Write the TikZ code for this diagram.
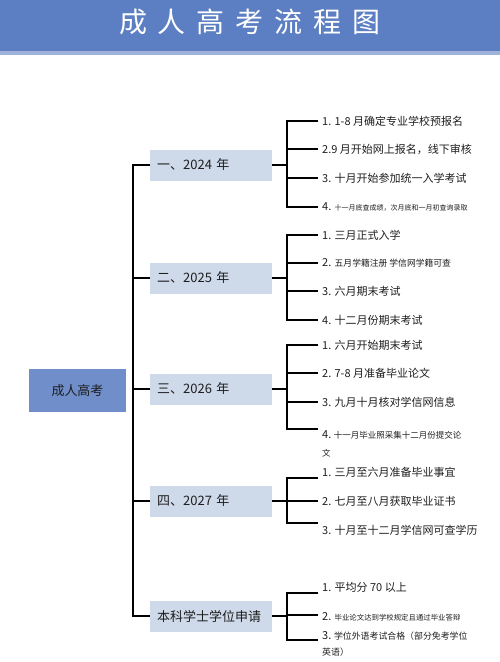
\documentclass[tikz,border=0pt]{standalone}
\usepackage{fontspec}
\setmainfont{Noto Sans CJK SC}
\definecolor{titleblue}{HTML}{5B7FC2}
\definecolor{titleedge}{HTML}{9FB3DA}
\definecolor{rootblue}{HTML}{6F8ECA}
\definecolor{yearbox}{HTML}{CED9EA}
\definecolor{ink}{HTML}{1E1E1E}
\begin{document}
\begin{tikzpicture}[x=1pt,y=-1pt,
  conn/.style={line width=1.8pt, draw=black},
  yearnode/.style={fill=yearbox, minimum height=31pt, text width=108pt, inner xsep=7pt, inner ysep=0pt,
    align=left, text=ink, font=\fontsize{13}{15}\selectfont, anchor=west},
  rootnode/.style={fill=rootblue, minimum width=97pt, minimum height=43pt, inner sep=0pt,
    text=ink, font=\fontsize{13}{15}\selectfont},
  item/.style={anchor=west, inner sep=0pt, text=ink, font=\fontsize{11}{13}\selectfont, align=left},
  titlenode/.style={text=white, font=\fontsize{28}{30}\selectfont, inner sep=0pt}]
\useasboundingbox (0,0) rectangle (500,662);
% title band
\fill[titleedge] (0,0) rectangle (500,55);
\fill[titleblue] (0,0) rectangle (500,51);
\node[titlenode] (title) at (250,22) {成\hspace{11pt}人\hspace{11pt}高\hspace{11pt}考\hspace{11pt}流\hspace{11pt}程\hspace{11pt}图};

% root
\node[rootnode] (root) at (77.5,390.5) {成人高考};

% year boxes
\node[yearnode] (y1) at (150,165) {一、2024 年};
\node[yearnode] (y2) at (150,278) {二、2025 年};
\node[yearnode] (y3) at (150,389) {三、2026 年};
\node[yearnode] (y4) at (150,501) {四、2027 年};
\node[yearnode] (y5) at (150,616) {本科学士学位申请};

% main spine
\coordinate (sTop) at (133,165);
\coordinate (sBot) at (133,616);
\draw[conn] (y1.west) -- (sTop) -- (sBot) -- (y5.west);
\draw[conn] (y2.west) -- (y2.west -| sTop);
\draw[conn] (y3.west) -- (y3.west -| sTop);
\draw[conn] (y4.west) -- (y4.west -| sTop);

% ---------- group 1 ----------
\node[item] (a1) at (322,121) {1. 1-8 月确定专业学校预报名};
\node[item] (a2) at (322,149) {2.9 月开始网上报名，线下审核};
\node[item] (a3) at (322,178) {3. 十月开始参加统一入学考试};
\node[item] (a4) at (322,207) {4. {\fontsize{7}{8}\selectfont 十一月底查成绩，次月底和一月初查询录取}};
\coordinate (g1t) at (287,121);
\coordinate (g1b) at (287,207);
\draw[conn] (y1.east) -- (y1.east -| g1t);
\draw[conn] (a1.west) ++(-4,0) coordinate (a1e) -- (g1t) -- (g1b) -- (a4.west -| a1e);
\draw[conn] (a2.west -| g1t) -- (a2.west -| a1e);
\draw[conn] (a3.west -| g1t) -- (a3.west -| a1e);

% ---------- group 2 ----------
\node[item] (b1) at (322,235) {1. 三月正式入学};
\node[item] (b2) at (322,263) {2. {\fontsize{8.8}{10}\selectfont 五月学籍注册 学信网学籍可查}};
\node[item] (b3) at (322,291) {3. 六月期末考试};
\node[item] (b4) at (322,320) {4. 十二月份期末考试};
\coordinate (g2t) at (287,235);
\coordinate (g2b) at (287,320);
\draw[conn] (y2.east) -- (y2.east -| g2t);
\draw[conn] (b1.west) ++(-4,0) coordinate (b1e) -- (g2t) -- (g2b) -- (b4.west -| b1e);
\draw[conn] (b2.west -| g2t) -- (b2.west -| b1e);
\draw[conn] (b3.west -| g2t) -- (b3.west -| b1e);

% ---------- group 3 ----------
\node[item] (c1) at (322,345) {1. 六月开始期末考试};
\node[item] (c2) at (322,373) {2. 7-8 月准备毕业论文};
\node[item] (c3) at (322,402) {3. 九月十月核对学信网信息};
\node[item, font=\fontsize{8.5}{18}\selectfont] (c4) at (322,444) {{\fontsize{11}{13}\selectfont 4.} 十一月毕业照采集十二月份提交论\\文};
\coordinate (g3t) at (287,345);
\coordinate (g3b) at (287,429);
\coordinate (c4e) at (318,429);
\draw[conn] (y3.east) -- (y3.east -| g3t);
\draw[conn] (c1.west) ++(-4,0) coordinate (c1e) -- (g3t) -- (g3b) -- (c4e);
\draw[conn] (c2.west -| g3t) -- (c2.west -| c1e);
\draw[conn] (c3.west -| g3t) -- (c3.west -| c1e);

% ---------- group 4 ----------
\node[item] (d1) at (322,472) {1. 三月至六月准备毕业事宜};
\node[item] (d2) at (322,501) {2. 七月至八月获取毕业证书};
\node[item] (d3) at (322,530) {3. 十月至十二月学信网可查学历};
\coordinate (g4t) at (287,478);
\coordinate (g4b) at (287,523);
\coordinate (d1e) at (318,478);
\coordinate (d3e) at (318,523);
\draw[conn] (y4.east) -- (y4.east -| g4t);
\draw[conn] (d1e) -- (g4t) -- (g4b) -- (d3e);
\draw[conn] (d2.west -| g4t) -- (d2.west -| d1e);

% ---------- group 5 ----------
\node[item] (e1) at (322,587) {1. 平均分 70 以上};
\node[item] (e2) at (322,617) {2. {\fontsize{7.4}{8}\selectfont 毕业论文达到学校规定且通过毕业答辩}};
\node[item, font=\fontsize{8.9}{16}\selectfont] (e3) at (322,644) {{\fontsize{11}{13}\selectfont 3.} 学位外语考试合格（部分免考学位\\英语）};
\coordinate (g5t) at (287,593);
\coordinate (g5b) at (287,640);
\coordinate (e1e) at (318,593);
\coordinate (e2e) at (318,615);
\coordinate (e3e) at (318,640);
\draw[conn] (y5.east) -- (y5.east -| g5t);
\draw[conn] (e1e) -- (g5t) -- (g5b) -- (e3e);
\draw[conn] (e2e -| g5t) -- (e2e);
\end{tikzpicture}
\end{document}
